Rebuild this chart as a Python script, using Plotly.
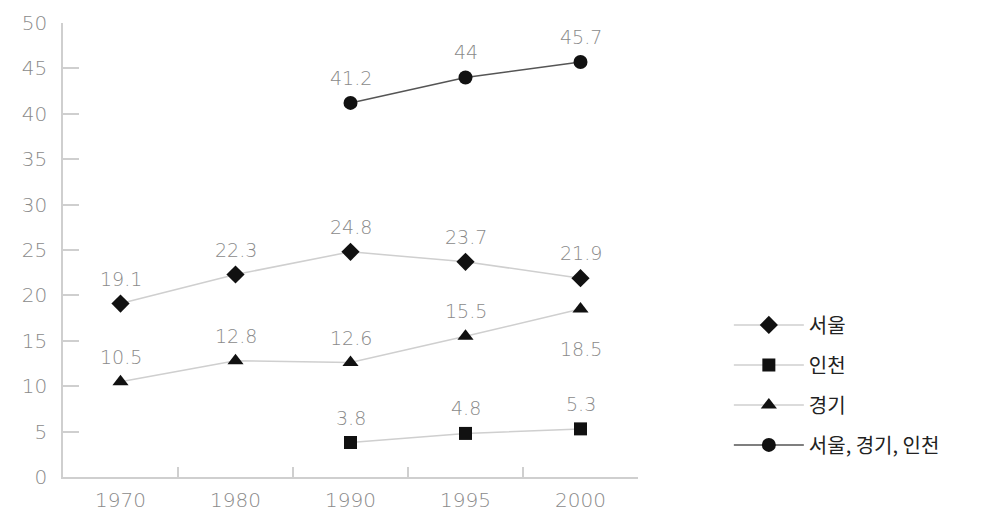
import plotly.graph_objects as go

years = ["1970", "1980", "1990", "1995", "2000"]
seoul = [19.1, 22.3, 24.8, 23.7, 21.9]
incheon_years = ["1990", "1995", "2000"]
incheon = [3.8, 4.8, 5.3]
gyeonggi = [10.5, 12.8, 12.6, 15.5, 18.5]
metro_years = ["1990", "1995", "2000"]
metro = [41.2, 44, 45.7]
y_ticks = [0, 5, 10, 15, 20, 25, 30, 35, 40, 45, 50]

FONT = "DejaVu Sans"
LABEL_GRAY = "#8a8a8a"
LIGHT_LINE = "#cfcfcf"

fig = go.Figure()

series = [
    ("서울", years, seoul, "diamond", 14, LIGHT_LINE),
    ("인천", incheon_years, incheon, "square", 13, LIGHT_LINE),
    ("경기", years, gyeonggi, "triangle-up", 14, LIGHT_LINE),
    ("서울, 경기, 인천", metro_years, metro, "circle", 14, "#555555"),
]

for i, (name, xs, ys, sym, size, lc) in enumerate(series):
    fig.add_trace(go.Scatter(
        x=xs, y=ys, name=name, mode="lines+markers",
        line=dict(color=lc, width=1.5),
        marker=dict(symbol=sym, size=size, color="#111111"),
        legendgroup=f"g{i}",
    ))

# value labels above (or below) each marker; x given as category index
annotations = []
for name, xs, ys, *_ in series:
    for x, y in zip(xs, ys):
        below = (name == "경기" and x == "2000")
        annotations.append(dict(
            x=years.index(x), y=y, xref="x", yref="y", text=f"{y:g}",
            showarrow=False, yshift=-40 if below else 25,
            font=dict(family=FONT, size=19, color=LABEL_GRAY, weight=200),
        ))

fig.update_layout(
    width=997, height=521,
    margin=dict(l=63, r=359, t=23, b=44),
    paper_bgcolor="white", plot_bgcolor="white",
    font=dict(family=FONT, color=LABEL_GRAY),
    annotations=annotations,
    showlegend=True,
    legend=dict(
        x=1.158, y=0.378, xanchor="left", yanchor="top",
        font=dict(family="Noto Sans CJK KR", size=20, color="#222222"),
        tracegroupgap=11, itemwidth=70,
        bgcolor="rgba(0,0,0,0)",
    ),
)

fig.update_xaxes(
    type="category", categoryorder="array", categoryarray=years,
    range=[-0.5, 4.5], automargin=False,
    showline=True, linecolor=LIGHT_LINE, linewidth=1.5,
    showgrid=False, zeroline=False,
    ticks="inside", tickson="boundaries", ticklen=10, tickcolor=LIGHT_LINE, tickwidth=1.5,
    tickfont=dict(family=FONT, size=20, color=LABEL_GRAY, weight=200),
    ticklabelstandoff=4,
)
fig.update_yaxes(
    range=[0, 50], tickvals=y_ticks, automargin=False,
    showline=True, linecolor=LIGHT_LINE, linewidth=1.5,
    showgrid=False, zeroline=False,
    ticks="inside", ticklen=16, tickcolor=LIGHT_LINE, tickwidth=1.5,
    tickfont=dict(family=FONT, size=20, color=LABEL_GRAY, weight=200),
    ticklabelstandoff=10,
)

fig.write_html("out.html")
